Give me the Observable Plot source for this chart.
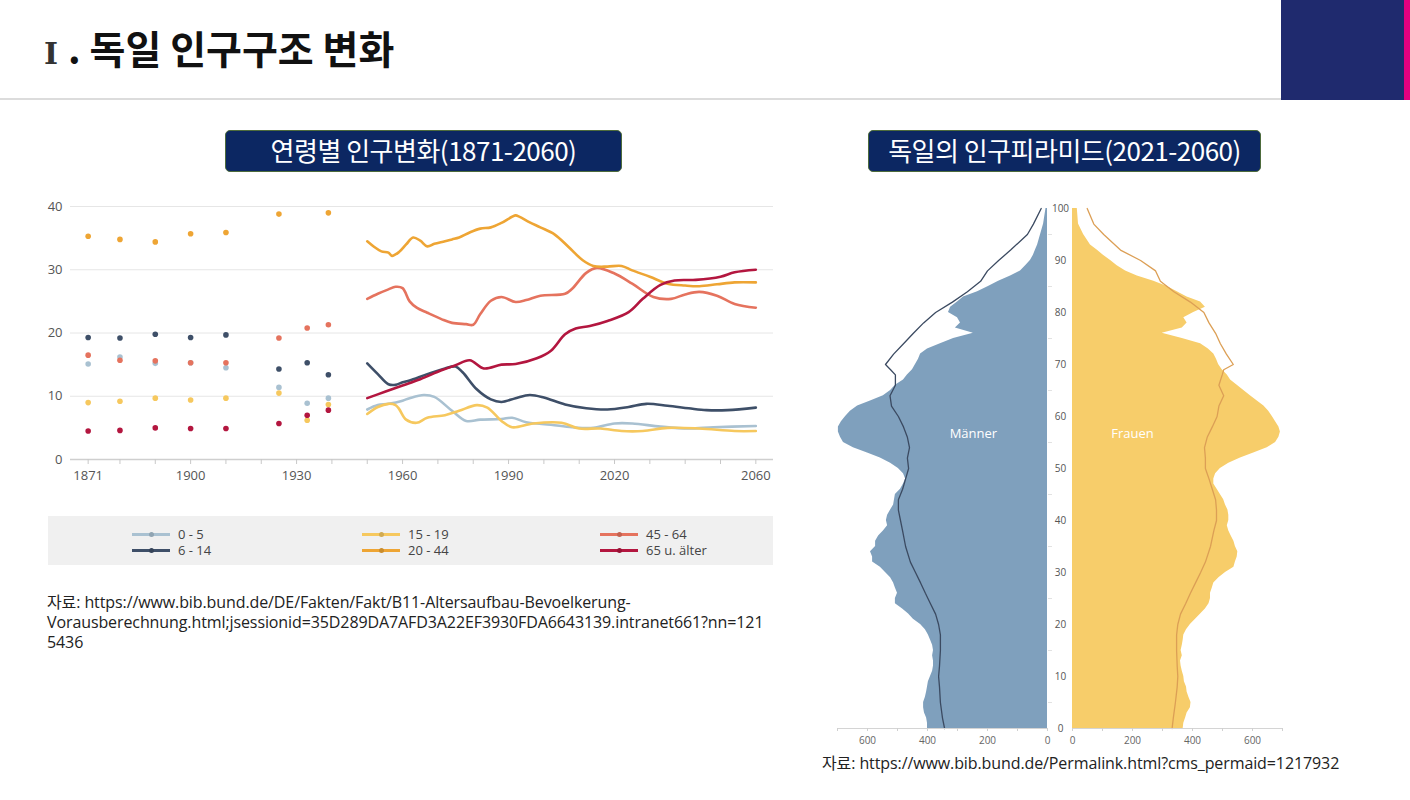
<!DOCTYPE html>
<html><head><meta charset="utf-8">
<script src="https://cdn.jsdelivr.net/npm/d3@7"></script>
<script src="https://cdn.jsdelivr.net/npm/@observablehq/plot@0.6"></script>
<style>
body{margin:0;width:1410px;height:800px;position:relative;overflow:hidden;background:#fff;font-family:"Noto Sans CJK KR","Noto Sans",sans-serif;}
.abs{position:absolute;}
#title{left:44px;top:20px;font-size:39px;font-weight:700;color:#111;line-height:54px;white-space:nowrap;}
#title .rn{font-family:"DejaVu Serif","Liberation Serif",serif;font-size:30px;color:#333;margin-right:10px;}
#hline{left:0;top:98px;width:1281px;height:2px;background:#dcdcdc;}
#navy{left:1281px;top:0;width:123px;height:100px;background:#1f2a6e;}
#mag{left:1404px;top:0;width:6px;height:100px;background:#e4007f;}
.box{height:42px;background:#0c2762;border:1.5px solid #4d6b3c;border-radius:5px;color:#fff;font-size:26px;line-height:38px;text-align:center;letter-spacing:-0.5px;box-sizing:border-box;white-space:nowrap;}
#legend{left:48px;top:516px;width:725px;height:49px;background:#f0f0f0;}
.li{position:absolute;font-family:"Open Sans",sans-serif;font-size:13px;color:#444;line-height:16px;white-space:nowrap;}
.sw{position:absolute;width:38px;height:3px;top:7px;}
.sw i{position:absolute;left:17px;top:-1.5px;width:5px;height:5px;border-radius:50%;}
.src{font-family:"Open Sans","Noto Sans CJK KR",sans-serif;font-size:16px;color:#222;line-height:20px;white-space:nowrap;letter-spacing:-0.1px;}
</style></head>
<body>
<div id="title" class="abs"><span class="rn">Ⅰ</span>. 독일 인구구조 변화</div>
<div id="hline" class="abs"></div>
<div id="navy" class="abs"></div>
<div id="mag" class="abs"></div>
<div class="abs box" style="left:225px;top:130px;width:397px;">연령별 인구변화(1871-2060)</div>
<div class="abs box" style="left:868px;top:130px;width:393px;">독일의 인구피라미드(2021-2060)</div>
<div id="left" class="abs" style="left:0;top:190px;"></div>
<div id="legend" class="abs"></div>
<div class="abs src" style="left:47px;top:592px;">자료: https://www.bib.bund.de/DE/Fakten/Fakt/B11-Altersaufbau-Bevoelkerung-<br>Vorausberechnung.html;jsessionid=35D289DA7AFD3A22EF3930FDA6643139.intranet661?nn=121<br>5436</div>
<div id="men" class="abs" style="left:820px;top:190px;"></div>
<div id="women" class="abs" style="left:1066px;top:190px;"></div>
<div class="abs src" style="left:822px;top:753px;">자료: https://www.bib.bund.de/Permalink.html?cms_permaid=1217932</div>
<script>
// ---------- Left chart data ----------
const seriesNames = ["0 - 5", "6 - 14", "15 - 19", "20 - 44", "45 - 64", "65 u. älter"];
const seriesColors = ["#a9c1d1", "#3e4f68", "#f6c85e", "#eea534", "#e5735e", "#b3163f"];
const tickYears = [1871, 1880, 1890, 1900, 1910, 1920, 1930, 1940, 1950, 1960, 1970, 1980, 1990, 2000, 2010, 2020, 2030, 2040, 2050, 2060];
const labelYears = [1871, 1900, 1930, 1960, 1990, 2020, 2060];
const yTicks = [0, 10, 20, 30, 40];

const dotYears = [1871, 1880, 1890, 1900, 1910, 1925, 1933, 1939];
const dots0_5 = [15.1, 16.2, 15.2, 15.3, 14.5, 11.4, 8.9, 9.7];
const dots6_14 = [19.3, 19.2, 19.8, 19.3, 19.7, 14.3, 15.3, 13.4];
const dots15_19 = [9.0, 9.2, 9.7, 9.4, 9.7, 10.5, 6.2, 8.7];
const dots20_44 = [35.3, 34.8, 34.4, 35.7, 35.9, 38.8, null, 39.0];
const dots45_64 = [16.5, 15.7, 15.6, 15.3, 15.3, 19.2, 20.8, 21.3];
const dots65 = [4.5, 4.6, 5.0, 4.9, 4.9, 5.7, 7.0, 7.8];

const yrs0_5 = [1950, 1953, 1956, 1960, 1962, 1966, 1969, 1974, 1978, 1982, 1988, 1991, 1995, 2002, 2008, 2014, 2020, 2025, 2033, 2041, 2048, 2060];
const val0_5 = [7.9, 8.6, 8.8, 9.3, 9.7, 10.2, 9.9, 7.7, 6.1, 6.3, 6.4, 6.6, 5.9, 5.5, 5.1, 5.0, 5.7, 5.7, 5.2, 4.9, 5.1, 5.3];
const yrs6_14 = [1950, 1953, 1956, 1958, 1960, 1962, 1967, 1972, 1975, 1977, 1981, 1985, 1988, 1992, 1996, 2000, 2006, 2012, 2018, 2024, 2029, 2035, 2041, 2046, 2052, 2060];
const val6_14 = [15.2, 13.5, 11.9, 11.8, 12.2, 12.5, 13.5, 14.4, 14.7, 13.8, 11.1, 9.5, 9.1, 9.7, 10.2, 9.8, 8.7, 8.1, 7.9, 8.3, 8.8, 8.5, 8.1, 7.8, 7.8, 8.2];
const yrs15_19 = [1950, 1953, 1956, 1958, 1959, 1961, 1964, 1967, 1972, 1976, 1981, 1984, 1988, 1991, 1997, 2005, 2010, 2016, 2022, 2028, 2035, 2044, 2054, 2060];
const val15_19 = [7.2, 8.3, 8.8, 8.6, 8.0, 6.3, 5.8, 6.6, 7.0, 7.7, 8.6, 8.2, 6.1, 5.1, 5.7, 5.8, 4.9, 4.9, 4.5, 4.5, 5.0, 4.9, 4.5, 4.5];
const yrs20_44 = [1950, 1952, 1954, 1956, 1957, 1959, 1961, 1963, 1965, 1967, 1969, 1972, 1974, 1976, 1979, 1982, 1985, 1988, 1992, 1993, 1996, 1999, 2003, 2007, 2011, 2014, 2018, 2022, 2025, 2030, 2035, 2040, 2044, 2049, 2054, 2060];
const val20_44 = [34.5, 33.6, 32.9, 32.7, 32.2, 32.8, 34.0, 35.1, 34.6, 33.7, 34.1, 34.5, 34.8, 35.1, 35.9, 36.5, 36.7, 37.4, 38.6, 38.4, 37.5, 36.7, 35.6, 33.6, 31.5, 30.6, 30.5, 30.6, 29.9, 28.9, 27.8, 27.5, 27.4, 27.7, 28.0, 28.0];
const yrs45_64 = [1950, 1953, 1956, 1958, 1960, 1962, 1964, 1967, 1971, 1974, 1978, 1980, 1982, 1985, 1988, 1992, 1995, 1999, 2006, 2008, 2012, 2015, 2020, 2025, 2031, 2036, 2040, 2044, 2049, 2054, 2060];
const val45_64 = [25.4, 26.2, 26.9, 27.3, 27.1, 25.0, 24.0, 23.2, 22.2, 21.6, 21.4, 21.3, 23.0, 25.1, 25.7, 24.9, 25.2, 25.9, 26.2, 27.0, 29.5, 30.3, 29.4, 27.8, 25.7, 25.4, 26.1, 26.5, 25.9, 24.6, 24.0];
const yrs65 = [1950, 1955, 1960, 1965, 1971, 1975, 1979, 1983, 1988, 1992, 1998, 2002, 2006, 2009, 2013, 2018, 2024, 2028, 2033, 2037, 2043, 2050, 2054, 2060];
const val65 = [9.7, 10.7, 11.7, 12.7, 14.1, 14.9, 15.7, 14.4, 15.0, 15.1, 16.0, 17.2, 19.8, 20.7, 21.1, 21.9, 23.3, 25.4, 27.6, 28.3, 28.4, 28.9, 29.6, 30.0];

const dotSeries = [dots0_5, dots6_14, dots15_19, dots20_44, dots45_64, dots65];
const lineYears = [yrs0_5, yrs6_14, yrs15_19, yrs20_44, yrs45_64, yrs65];
const lineVals = [val0_5, val6_14, val15_19, val20_44, val45_64, val65];

const dotRows = [];
dotSeries.forEach((arr, i) => arr.forEach((v, j) => { if (v != null) dotRows.push({series: seriesNames[i], year: dotYears[j], value: v}); }));
const lineRows = [];
lineVals.forEach((arr, i) => arr.forEach((v, j) => lineRows.push({series: seriesNames[i], year: lineYears[i][j], value: v})));
const drawOrder = ["0 - 5", "15 - 19", "6 - 14", "45 - 64", "20 - 44", "65 u. älter"];

const leftPlot = Plot.plot({
  width: 790, height: 300, marginLeft: 70, marginRight: 17, marginTop: 16, marginBottom: 31,
  style: {fontFamily: "Open Sans, sans-serif", fontSize: "13px", color: "#555", background: "transparent", overflow: "visible"},
  x: {domain: [1866, 2065]},
  y: {domain: [0, 40]},
  color: {domain: seriesNames, range: seriesColors},
  marks: [
    Plot.gridY({ticks: [10, 20, 30, 40], stroke: "#e6e6e6", strokeOpacity: 1}),
    Plot.axisY({ticks: yTicks, tickSize: 0, tickPadding: 8, label: null}),
    Plot.ruleY([0], {stroke: "#cfcfcf", strokeWidth: 1.5}),
    Plot.axisX({ticks: tickYears, tickSize: 5, tickPadding: 6, tickFormat: d => labelYears.includes(d) ? String(d) : "", label: null, stroke: "#c8c8c8"}),
    ...drawOrder.map(s => Plot.line(lineRows.filter(d => d.series === s), {x: "year", y: "value", stroke: "series", strokeWidth: 2.6, curve: "catmull-rom"})),
    Plot.dot(dotRows, {x: "year", y: "value", fill: "series", r: 2.8})
  ]
});
document.getElementById("left").appendChild(leftPlot);

// legend (HTML)
const legendPos = [[84, 10], [84, 26], [314, 10], [314, 26], [552, 10], [552, 26]];
const lg = document.getElementById("legend");
seriesNames.forEach((name, i) => {
  const el = document.createElement("div");
  el.className = "li";
  el.style.left = legendPos[i][0] + "px";
  el.style.top = legendPos[i][1] + "px";
  el.innerHTML = `<span class="sw" style="left:0;background:${seriesColors[i]}"><i style="background:${seriesColors[i]};filter:brightness(0.85)"></i></span><span style="position:absolute;left:46px;top:0">${name}</span>`;
  lg.appendChild(el);
});

// ---------- Pyramid data ----------
const ages21 = [...Array.from({length: 94}, (_, i) => i), 95, 97, 100];
const men21 = [
  400, 400, 403, 410, 413, 413, 407, 403, 400, 397,
  390, 383, 380, 380, 383, 380, 383, 390, 397, 407,
  423, 447, 463, 483, 507, 507, 500, 507, 513, 523,
  540, 557, 583, 583, 590, 573, 573, 563, 547, 533,
  537, 533, 523, 513, 510, 507, 490, 480, 473, 480,
  497, 523, 557, 600, 647, 680, 690, 697, 697, 687,
  673, 657, 633, 590, 547, 523, 507, 480, 467, 450,
  440, 430, 423, 400, 357, 313, 247, 307, 290, 300,
  330, 323, 300, 280, 233, 197, 163, 123, 90, 73,
  57, 47, 40, 33,
  23, 13, 5];
const women21 = [
  369, 371, 377, 382, 393, 395, 388, 382, 380, 373,
  371, 366, 362, 360, 366, 362, 366, 369, 371, 380,
  393, 410, 427, 443, 455, 460, 460, 466, 471, 488,
  510, 538, 543, 549, 551, 543, 538, 529, 521, 516,
  521, 521, 518, 510, 504, 493, 482, 471, 471, 477,
  493, 521, 560, 604, 649, 677, 688, 693, 688, 677,
  666, 654, 638, 616, 593, 571, 549, 527, 516, 499,
  487, 480, 471, 453, 427, 366, 299, 366, 382, 371,
  404, 443, 427, 382, 349, 316, 271, 216, 177, 149,
  127, 103, 82, 60,
  37, 20, 16];
const ages60 = [0, 2, 5, 8, 10, 12, 15, 18, 20, 22, 24, 26, 28, 30, 32, 35, 38, 40, 42, 44, 46, 48, 50, 52, 54, 56, 58, 60, 62, 64, 66, 68, 69, 70, 72, 74, 76, 78, 80, 82, 84, 86, 88, 90, 92, 95, 97, 100];
const men60 = [343, 350, 357, 360, 363, 360, 357, 357, 363, 373, 390, 407, 423, 440, 457, 473, 483, 490, 497, 497, 483, 473, 463, 467, 460, 467, 480, 497, 520, 525, 507, 507, 523, 540, 513, 480, 447, 413, 373, 317, 267, 223, 200, 163, 123, 67, 47, 21];
const women60 = [332, 336, 343, 349, 351, 349, 347, 347, 351, 360, 377, 393, 410, 427, 443, 460, 471, 480, 480, 477, 466, 455, 443, 443, 440, 449, 466, 482, 488, 504, 488, 499, 504, 536, 513, 493, 477, 455, 438, 393, 338, 293, 277, 227, 160, 104, 71, 49];
const ageTicks = [0, 10, 20, 30, 40, 50, 60, 70, 80, 90, 100];
const ageMinor = [5, 15, 25, 35, 45, 55, 65, 75, 85, 95];
const popTicks = [0, 100, 200, 300, 400, 500, 600, 700];
const popLabels = [0, 200, 400, 600];
const sexLabels = [{sex: "m", text: "Männer", v: 247, age: 56.7}, {sex: "f", text: "Frauen", v: 200, age: 56.7}];

const rowsM21 = ages21.map((a, i) => ({age: a, v: men21[i]}));
const rowsW21 = ages21.map((a, i) => ({age: a, v: women21[i]}));
const rowsM60 = ages60.map((a, i) => ({age: a, v: men60[i]}));
const rowsW60 = ages60.map((a, i) => ({age: a, v: women60[i]}));

const pyrStyle = {fontFamily: "Open Sans, sans-serif", fontSize: "10px", color: "#666", background: "transparent", overflow: "visible"};

const menPlot = Plot.plot({
  width: 252, height: 566, marginLeft: 17, marginRight: 25, marginTop: 18, marginBottom: 28,
  style: pyrStyle,
  x: {domain: [700, 0]},
  y: {domain: [0, 100]},
  marks: [
    Plot.areaX(rowsM21, {x: "v", y: "age", fill: "#7fa0bd"}),
    Plot.lineX(rowsM60, {x: "v", y: "age", stroke: "#3b4a61", strokeWidth: 1.3}),
    Plot.ruleY([0], {stroke: "#d4d4d4"}),
    Plot.axisX({ticks: popTicks, tickSize: 3, tickPadding: 5, tickFormat: d => popLabels.includes(d) ? String(d) : "", label: null, stroke: "#d0d0d0"}),
    Plot.axisY({anchor: "right", ticks: ageMinor, tickSize: 4, tickFormat: () => "", label: null, stroke: "#e2e2e2"}),
    Plot.axisY({anchor: "right", ticks: ageTicks, tickSize: 0, tickPadding: 13, textAnchor: "middle", label: null, fill: "#555"}),
    Plot.text(sexLabels.filter(d => d.sex === "m"), {x: "v", y: "age", text: "text", fill: "white", fontSize: 13})
  ]
});
document.getElementById("men").appendChild(menPlot);

const womenPlot = Plot.plot({
  width: 226, height: 566, marginLeft: 6, marginRight: 10, marginTop: 18, marginBottom: 28,
  style: pyrStyle,
  x: {domain: [0, 700]},
  y: {domain: [0, 100], axis: null},
  marks: [
    Plot.areaX(rowsW21, {x: "v", y: "age", fill: "#f7cd6a"}),
    Plot.lineX(rowsW60, {x: "v", y: "age", stroke: "#dc9f55", strokeWidth: 1.3}),
    Plot.ruleY([0], {stroke: "#d4d4d4"}),
    Plot.axisX({ticks: popTicks, tickSize: 3, tickPadding: 5, tickFormat: d => popLabels.includes(d) ? String(d) : "", label: null, stroke: "#d0d0d0"}),
    Plot.text(sexLabels.filter(d => d.sex === "f"), {x: "v", y: "age", text: "text", fill: "white", fontSize: 13})
  ]
});
document.getElementById("women").appendChild(womenPlot);
</script>
</body></html>
